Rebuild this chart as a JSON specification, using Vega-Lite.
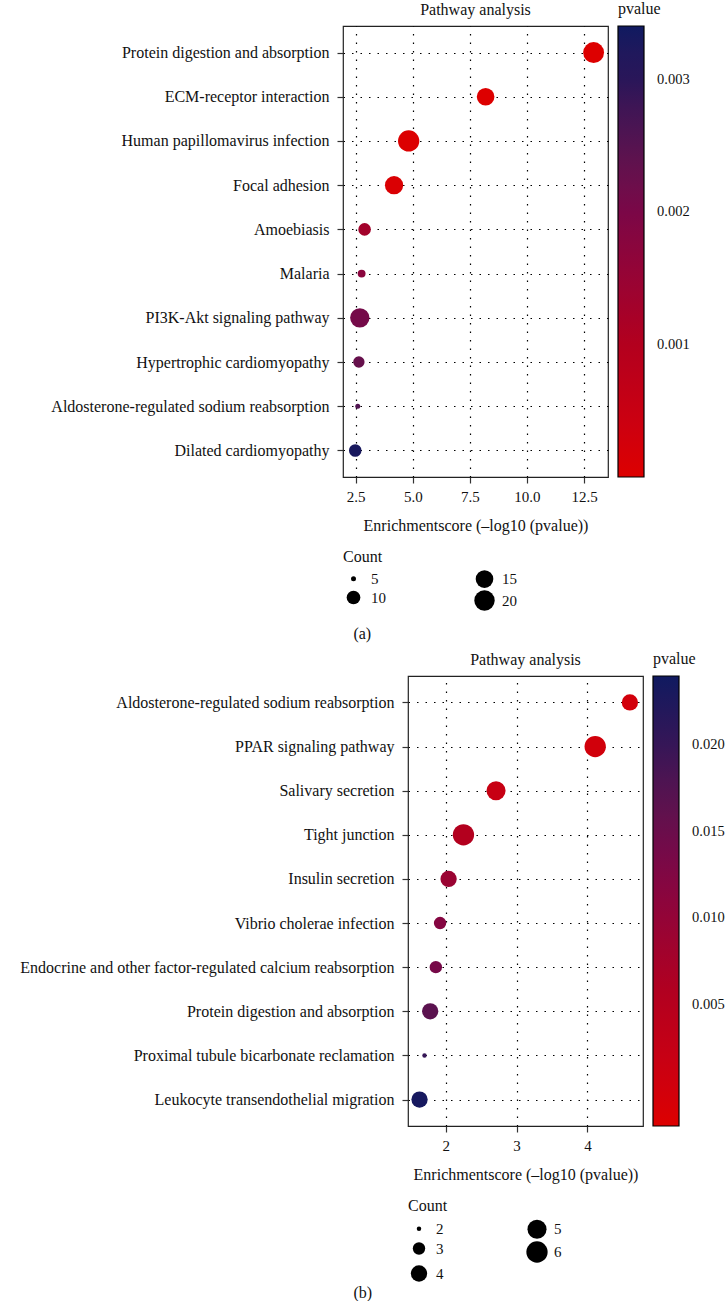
{
  "$schema": "https://vega.github.io/schema/vega-lite/v6.json",
  "padding": {"left": 0, "top": 0, "right": 0, "bottom": 0},
  "background": "white",
  "config": {
    "font": "Liberation Serif",
    "view": {"stroke": "#222", "strokeWidth": 1.2},
    "axis": {
      "labelFont": "Liberation Serif", "labelFontSize": 16, "labelColor": "#111", "labelLimit": 1000,
      "titleFont": "Liberation Serif", "titleFontSize": 16, "titleFontWeight": "normal", "titleColor": "#111",
      "domain": false, "tickColor": "#333", "tickSize": 6, "tickWidth": 1.2,
      "grid": true, "gridColor": "#000", "gridDash": [1.5, 7], "gridWidth": 1.2, "gridOpacity": 1
    },
    "axisY": {"labelPadding": 8},
    "axisX": {"labelPadding": 6, "titlePadding": 13, "labelFontSize": 15},
    "legend": {
      "labelFont": "Liberation Serif", "labelFontSize": 15, "labelColor": "#111",
      "titleFont": "Liberation Serif", "titleFontSize": 16, "titleFontWeight": "normal", "titleColor": "#111"
    },
    "title": {"font": "Liberation Serif", "fontSize": 16, "fontWeight": "normal", "color": "#111"}
  },
  "datasets": {
    "a": [
      {"pathway": "Protein digestion and absorption", "score": 12.92, "pvalue": 1.2e-13, "count": 21},
      {"pathway": "ECM-receptor interaction", "score": 8.19, "pvalue": 6.5e-9, "count": 15},
      {"pathway": "Human papillomavirus infection", "score": 4.82, "pvalue": 0.0000151, "count": 22},
      {"pathway": "Focal adhesion", "score": 4.18, "pvalue": 0.000066, "count": 16},
      {"pathway": "Amoebiasis", "score": 2.89, "pvalue": 0.00129, "count": 9},
      {"pathway": "Malaria", "score": 2.76, "pvalue": 0.00174, "count": 6},
      {"pathway": "PI3K-Akt signaling pathway", "score": 2.68, "pvalue": 0.00209, "count": 18},
      {"pathway": "Hypertrophic cardiomyopathy", "score": 2.64, "pvalue": 0.00229, "count": 8},
      {"pathway": "Aldosterone-regulated sodium reabsorption", "score": 2.59, "pvalue": 0.00257, "count": 5},
      {"pathway": "Dilated cardiomyopathy", "score": 2.48, "pvalue": 0.00331, "count": 9}
    ],
    "b": [
      {"pathway": "Aldosterone-regulated sodium reabsorption", "score": 4.60, "pvalue": 0.000025, "count": 4},
      {"pathway": "PPAR signaling pathway", "score": 4.11, "pvalue": 0.000078, "count": 6},
      {"pathway": "Salivary secretion", "score": 2.71, "pvalue": 0.00195, "count": 5},
      {"pathway": "Tight junction", "score": 2.25, "pvalue": 0.00562, "count": 6},
      {"pathway": "Insulin secretion", "score": 2.04, "pvalue": 0.00912, "count": 4},
      {"pathway": "Vibrio cholerae infection", "score": 1.92, "pvalue": 0.0120, "count": 3},
      {"pathway": "Endocrine and other factor-regulated calcium reabsorption", "score": 1.86, "pvalue": 0.0138, "count": 3},
      {"pathway": "Protein digestion and absorption", "score": 1.78, "pvalue": 0.0166, "count": 4},
      {"pathway": "Proximal tubule bicarbonate reclamation", "score": 1.70, "pvalue": 0.0200, "count": 2},
      {"pathway": "Leukocyte transendothelial migration", "score": 1.63, "pvalue": 0.0234, "count": 4}
    ]
  },
  "spacing": 8,
  "resolve": {"scale": {"color": "independent", "size": "independent"}, "legend": {"color": "independent", "size": "independent"}},
  "vconcat": [
    {
      "title": {"text": "(a)", "orient": "bottom", "anchor": "middle", "offset": 14, "dx": 17},
      "spacing": 0,
      "resolve": {"scale": {"color": "independent", "size": "independent"}, "legend": {"color": "independent", "size": "independent"}},
      "hconcat": [
        {"width": 50, "height": 10, "data": {"values": []}, "mark": {"type": "point", "opacity": 0}, "encoding": {}, "view": {"stroke": null}},
        {
          "width": 265,
          "height": 451,
          "data": {"name": "a"},
          "title": {"text": "Pathway analysis", "frame": "group", "anchor": "middle", "offset": -17},
          "mark": {"type": "circle", "opacity": 1},
          "encoding": {
            "y": {"field": "pathway", "type": "nominal", "sort": null,
                  "scale": {"type": "point", "padding": 0.6}, "axis": {"title": null}},
            "x": {"field": "score", "type": "quantitative",
                  "scale": {"domain": [1.944, 13.55], "nice": false, "zero": false},
                  "axis": {"values": [2.5, 5, 7.5, 10, 12.5], "format": ".1f", "title": "Enrichmentscore (–log10 (pvalue))"}},
            "color": {"field": "pvalue", "type": "quantitative",
                      "scale": {"domain": [0, 0.001, 0.002, 0.003, 0.00341],
                                "range": ["#DD0000", "#B3001E", "#7B0747", "#2A1659", "#101A60"], "interpolate": "lab"},
                      "legend": {"orient": "none", "legendX": 275, "legendY": -25, "title": "pvalue",
                                 "values": [0.001, 0.002, 0.003], "format": ".3f",
                                 "gradientLength": 451, "gradientThickness": 26,
                                 "gradientStrokeColor": "#000", "gradientStrokeWidth": 1.2,
                                 "labelOffset": 13, "labelFontSize": 14.5, "labelOverlap": false, "titlePadding": 9, "padding": 0}},
            "size": {"field": "count", "type": "quantitative",
                     "scale": {"type": "sqrt", "zero": false, "domain": [5, 22], "range": [25, 454]},
                     "legend": {"orient": "bottom", "title": "Count", "values": [5, 15, 10, 20], "columns": 2,
                                "columnPadding": 88, "rowPadding": 2, "labelOffset": 7,
                                "symbolType": "circle", "symbolFillColor": "#000", "symbolStrokeColor": "#000",
                                "symbolStrokeWidth": 0, "symbolOpacity": 1, "offset": 16, "padding": 0}}
          }
        }
      ]
    },
    {
      "title": {"text": "(b)", "orient": "bottom", "anchor": "middle", "offset": 2},
      "spacing": 0,
      "resolve": {"scale": {"color": "independent", "size": "independent"}, "legend": {"color": "independent", "size": "independent"}},
      "hconcat": [
        {"width": 19, "height": 10, "data": {"values": []}, "mark": {"type": "point", "opacity": 0}, "encoding": {}, "view": {"stroke": null}},
        {
          "width": 235,
          "height": 450,
          "data": {"name": "b"},
          "title": {"text": "Pathway analysis", "frame": "group", "anchor": "middle", "offset": -17},
          "mark": {"type": "circle", "opacity": 1},
          "encoding": {
            "y": {"field": "pathway", "type": "nominal", "sort": null,
                  "scale": {"type": "point", "padding": 0.6}, "axis": {"title": null}},
            "x": {"field": "score", "type": "quantitative",
                  "scale": {"domain": [1.467, 4.785], "nice": false, "zero": false},
                  "axis": {"values": [2, 3, 4], "format": "d", "title": "Enrichmentscore (–log10 (pvalue))"}},
            "color": {"field": "pvalue", "type": "quantitative",
                      "scale": {"domain": [-0.002, 0.0056, 0.0133, 0.0209, 0.024],
                                "range": ["#DD0000", "#B3001E", "#7B0747", "#2A1659", "#101A60"], "interpolate": "lab"},
                      "legend": {"orient": "none", "legendX": 245, "legendY": -25, "title": "pvalue",
                                 "values": [0.005, 0.010, 0.015, 0.020], "format": ".3f",
                                 "gradientLength": 450, "gradientThickness": 26,
                                 "gradientStrokeColor": "#000", "gradientStrokeWidth": 1.2,
                                 "labelOffset": 13, "labelFontSize": 14.5, "labelOverlap": false, "titlePadding": 9, "padding": 0}},
            "size": {"field": "count", "type": "quantitative",
                     "scale": {"type": "sqrt", "zero": false, "domain": [2, 6], "range": [20, 454]},
                     "legend": {"orient": "bottom", "title": "Count", "values": [2, 5, 3, 6, 4], "columns": 2,
                                "columnPadding": 82, "rowPadding": 2, "labelOffset": 6,
                                "symbolType": "circle", "symbolFillColor": "#000", "symbolStrokeColor": "#000",
                                "symbolStrokeWidth": 0, "symbolOpacity": 1, "offset": 16, "padding": 0}}
          }
        }
      ]
    }
  ]
}
